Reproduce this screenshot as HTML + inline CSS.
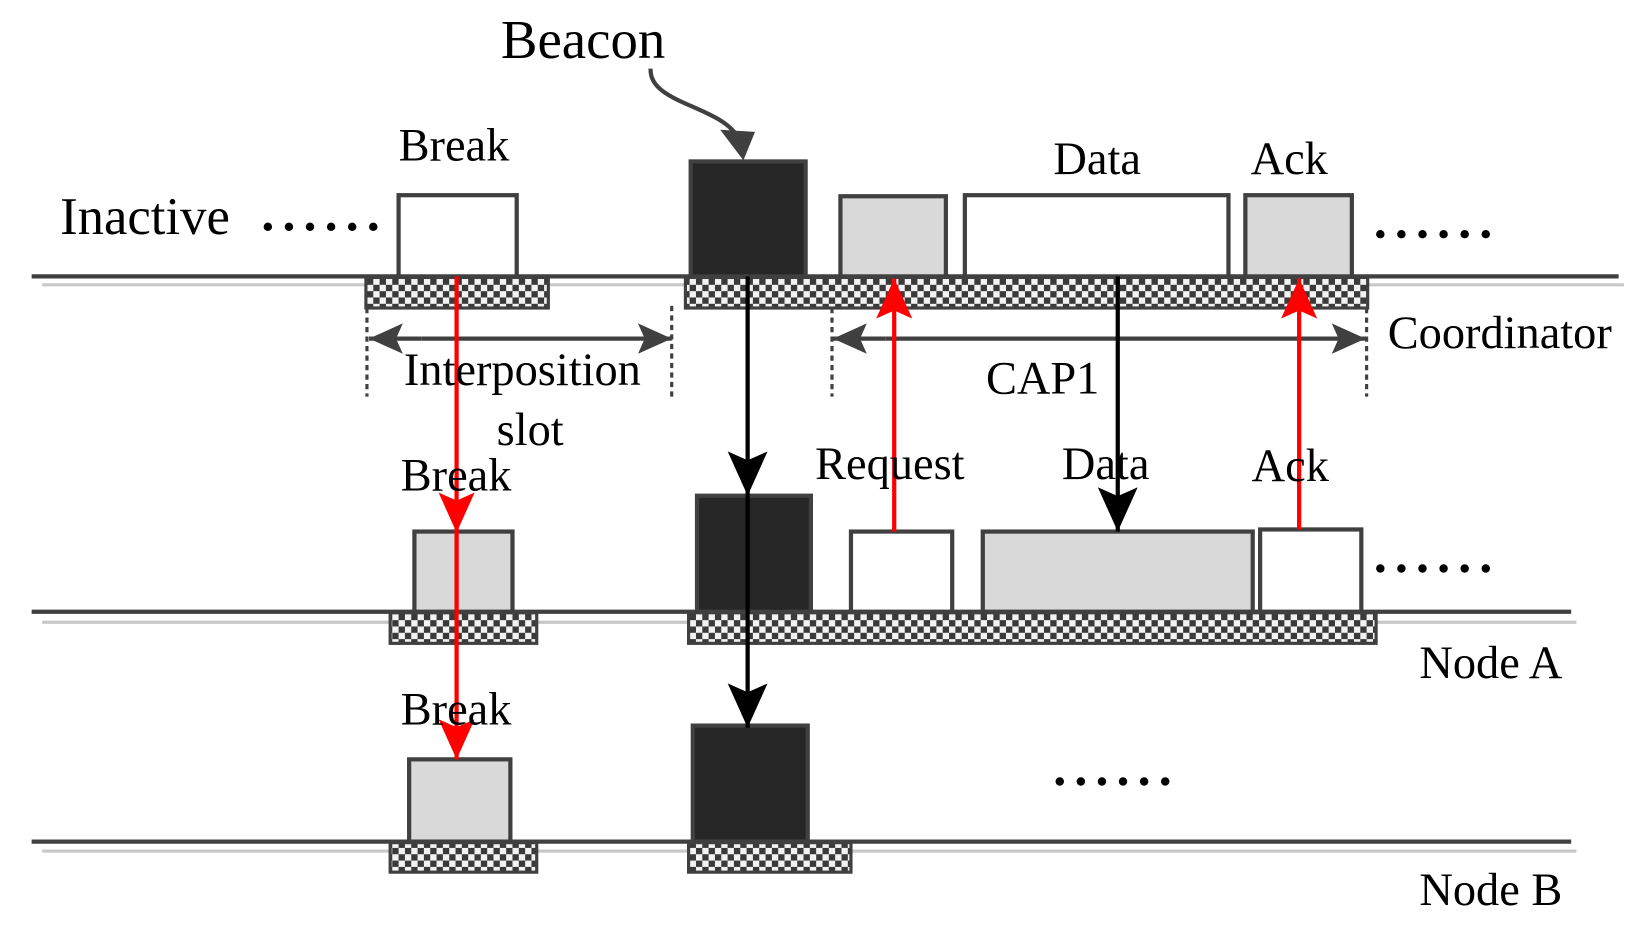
<!DOCTYPE html>
<html><head><meta charset="utf-8"><style>
html,body{margin:0;padding:0;background:#fff;width:1645px;height:925px;overflow:hidden}
svg{display:block}
text{font-family:"Liberation Serif",serif;fill:#000}
</style></head><body>
<svg width="1645" height="925" viewBox="0 0 1560 877" xmlns="http://www.w3.org/2000/svg">
<defs>
<pattern id="ck" width="12" height="12" patternUnits="userSpaceOnUse">
<rect width="12" height="12" fill="#f2f2f2"/>
<rect width="6" height="6" fill="#3a3a3a"/>
<rect x="6" y="6" width="6" height="6" fill="#3a3a3a"/>
</pattern>
<marker id="ab" viewBox="0 0 10 10" refX="10" refY="5" markerWidth="42" markerHeight="42" markerUnits="userSpaceOnUse" orient="auto"><path d="M0,0.5 L10,5 L0,9.5 L2,5 Z" fill="#000"/></marker>
<marker id="ar" viewBox="0 0 10 10" refX="10" refY="5" markerWidth="38" markerHeight="38" markerUnits="userSpaceOnUse" orient="auto"><path d="M0,0.5 L10,5 L0,9.5 L2,5 Z" fill="#f00"/></marker>
<marker id="ag" viewBox="0 0 10 10" refX="10" refY="5" markerWidth="32" markerHeight="32" markerUnits="userSpaceOnUse" orient="auto"><path d="M0,0.5 L10,5 L0,9.5 L2,5 Z" fill="#404040"/></marker>
</defs>
<g stroke="#404040" stroke-width="4">
<line x1="30" y1="262" x2="1535" y2="262"/>
<line x1="30" y1="580" x2="1490" y2="580"/>
<line x1="30" y1="798" x2="1490" y2="798"/>
</g>
<g stroke="#c8c8c8" stroke-width="3">
<line x1="40" y1="270" x2="1540" y2="270"/>
<line x1="40" y1="590" x2="1495" y2="590"/>
<line x1="40" y1="807" x2="1495" y2="807"/>
</g>
<g fill="url(#ck)" stroke="#404040" stroke-width="3">
<rect x="347" y="263" width="173" height="29"/>
<rect x="650" y="263" width="647" height="29"/>
<rect x="370" y="581" width="139" height="29"/>
<rect x="653" y="581" width="652" height="29"/>
<rect x="370" y="799" width="139" height="28"/>
<rect x="653" y="799" width="154" height="28"/>
</g>
<g stroke="#404040" stroke-width="4">
<rect x="378" y="185" width="112" height="77" fill="#fff"/>
<rect x="655" y="153" width="109" height="109" fill="#262626"/>
<rect x="797" y="186" width="100" height="76" fill="#d9d9d9"/>
<rect x="915" y="185" width="250" height="77" fill="#fff"/>
<rect x="1181" y="185" width="101" height="77" fill="#d9d9d9"/>
<rect x="393" y="504" width="93" height="76" fill="#d9d9d9"/>
<rect x="661" y="470" width="108" height="110" fill="#262626"/>
<rect x="807" y="504" width="96" height="76" fill="#fff"/>
<rect x="932" y="504" width="256" height="76" fill="#d9d9d9"/>
<rect x="1195" y="502" width="96" height="78" fill="#fff"/>
<rect x="388" y="720" width="96" height="78" fill="#d9d9d9"/>
<rect x="657" y="688" width="109" height="110" fill="#262626"/>
</g>
<g stroke="#404040" stroke-width="3" stroke-dasharray="5,4">
<line x1="348" y1="292" x2="348" y2="376"/>
<line x1="637" y1="290" x2="637" y2="376"/>
<line x1="789" y1="292" x2="789" y2="376"/>
<line x1="1296" y1="292" x2="1296" y2="376"/>
</g>
<g stroke="#404040" stroke-width="4">
<line x1="400" y1="321" x2="350" y2="321" marker-end="url(#ag)"/>
<line x1="400" y1="321" x2="637" y2="321" marker-end="url(#ag)"/>
<line x1="840" y1="321" x2="790" y2="321" marker-end="url(#ag)"/>
<line x1="840" y1="321" x2="1295" y2="321" marker-end="url(#ag)"/>
</g>
<path d="M617,65 C615,100 690,100 702,135" fill="none" stroke="#404040" stroke-width="4"/>
<path d="M683,123 L716,125 L705,152 Z" fill="#404040"/>
<g stroke="#000" stroke-width="4">
<line x1="709" y1="262" x2="709" y2="470" marker-end="url(#ab)"/>
<line x1="709" y1="470" x2="709" y2="690" marker-end="url(#ab)"/>
<line x1="1060" y1="262" x2="1060" y2="504" marker-end="url(#ab)"/>
</g>
<g stroke="#f00" stroke-width="4">
<line x1="433" y1="262" x2="433" y2="505" marker-end="url(#ar)"/>
<line x1="433" y1="505" x2="433" y2="720" marker-end="url(#ar)"/>
<line x1="848" y1="504" x2="848" y2="264" marker-end="url(#ar)"/>
<line x1="1232" y1="502" x2="1232" y2="264" marker-end="url(#ar)"/>
</g>
<g fill="#000">
<circle cx="254" cy="215" r="4"/><circle cx="274" cy="215" r="4"/><circle cx="294" cy="215" r="4"/><circle cx="314" cy="215" r="4"/><circle cx="334" cy="215" r="4"/><circle cx="354" cy="215" r="4"/>
<circle cx="1309" cy="222" r="4"/><circle cx="1329" cy="222" r="4"/><circle cx="1349" cy="222" r="4"/><circle cx="1369" cy="222" r="4"/><circle cx="1389" cy="222" r="4"/><circle cx="1409" cy="222" r="4"/>
<circle cx="1309" cy="539" r="4"/><circle cx="1329" cy="539" r="4"/><circle cx="1349" cy="539" r="4"/><circle cx="1369" cy="539" r="4"/><circle cx="1389" cy="539" r="4"/><circle cx="1409" cy="539" r="4"/>
<circle cx="1005" cy="741" r="4"/><circle cx="1025" cy="741" r="4"/><circle cx="1045" cy="741" r="4"/><circle cx="1065" cy="741" r="4"/><circle cx="1085" cy="741" r="4"/><circle cx="1105" cy="741" r="4"/>
</g>
<g font-size="44">
<text x="475" y="55" font-size="52">Beacon</text>
<text x="57" y="222" font-size="50">Inactive</text>
<text x="378" y="152">Break</text>
<text x="999" y="165">Data</text>
<text x="1186" y="165">Ack</text>
<text x="1316" y="330">Coordinator</text>
<text x="383" y="365">Interposition</text>
<text x="471" y="422">slot</text>
<text x="935" y="373">CAP1</text>
<text x="380" y="465">Break</text>
<text x="773" y="454">Request</text>
<text x="1007" y="454">Data</text>
<text x="1187" y="456">Ack</text>
<text x="1346" y="643">Node A</text>
<text x="380" y="687">Break</text>
<text x="1346" y="858">Node B</text>
</g>
</svg>
</body></html>
